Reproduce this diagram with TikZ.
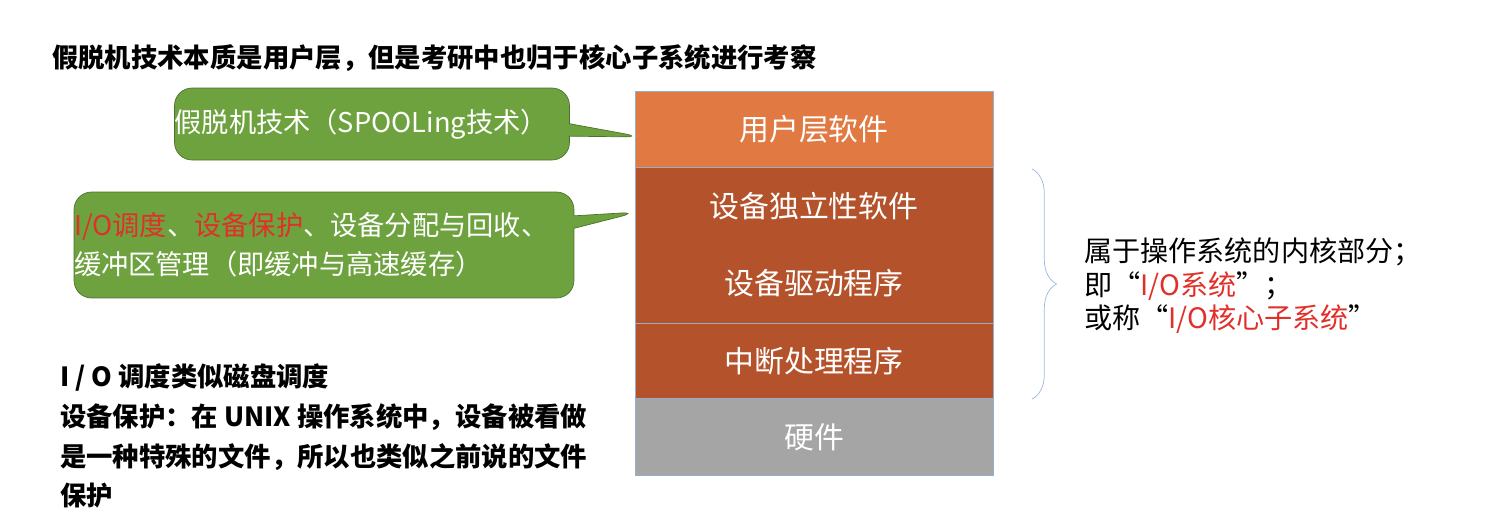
\documentclass[tikz,border=0pt]{standalone}
\usepackage{fontspec}
\setmainfont{Noto Sans CJK SC}
\usetikzlibrary{positioning,shapes.callouts,decorations.pathreplacing}
\definecolor{userc}{HTML}{E07A42}
\definecolor{kernc}{HTML}{B4532B}
\definecolor{hwc}{HTML}{A5A5A5}
\definecolor{greenc}{HTML}{6EA23F}
\definecolor{redc}{HTML}{E0302A}
\definecolor{bracec}{HTML}{9DB8DA}
\begin{document}
\begin{tikzpicture}[x=0.02cm,y=-0.02cm,
    layer/.style={draw=bracec!80!gray,text=white,minimum width=7.16cm,inner sep=0pt,font=\fontsize{17}{20}\selectfont},
    bubble/.style={rectangle callout,fill=greenc,draw=greenc!70!black,rounded corners=10pt,text=white,align=left,font=\fontsize{15.5}{22}\selectfont,inner sep=0pt,text width=#1},
    note/.style={anchor=west,font=\fontsize{15}{17}\selectfont\bfseries}]
  \useasboundingbox (0,0) rectangle (1497,525);
  % layers
  \node[layer,fill=userc,minimum height=1.52cm] (user) at (814,129) {用户层软件};
  \node[layer,fill=kernc,minimum height=3.12cm] (indep) at (814,245) {};
  \node[text=white,font=\fontsize{17}{20}\selectfont] (indept) at (814,206) {设备独立性软件};
  \node[text=white,font=\fontsize{17}{20}\selectfont] (drv) at (814,283) {设备驱动程序};
  \node[layer,fill=kernc,minimum height=1.52cm] (intr) at (814,361) {中断处理程序};
  \node[layer,fill=hwc,minimum height=1.54cm] (hw) at (814,437) {};
  \node[text=white,font=\fontsize{17}{20}\selectfont] (hwt) at (814,437) {硬件};
  % callouts
  \node[bubble=7.9cm,minimum height=1.44cm,callout absolute pointer={(642,137)}] (spool) at (372,124)
    {假脱机技术（SPOOLing技术）};
  \node[bubble=10cm,minimum height=2.12cm,callout absolute pointer={(638,212)}] (sched) at (324,245)
    {{\color{redc}I/O调度}、{\color{redc}设备保护}、设备分配与回收、\\缓冲区管理（即缓冲与高速缓存）};
  % brace
  \coordinate (bt) at (1032,169);
  \coordinate (bb) at (1032,399);
  \draw[bracec,decorate,decoration={brace,amplitude=14pt,mirror}] (bb) -- (bt);
  \node[anchor=north west,align=left,font=\fontsize{16}{19}\selectfont] (kern) at (1078,232)
    {属于操作系统的内核部分；\\即“{\color{redc}I/O系统}”；\\或称“{\color{redc}I/O核心子系统}”};
  % notes
  \node[note] (title) at (46,58) {假脱机技术本质是用户层，但是考研中也归于核心子系统进行考察};
  \node[note,anchor=north west,align=left,font=\fontsize{15}{22.5}\selectfont\bfseries] (io) at (54,358)
    {I / O 调度类似磁盘调度\\设备保护：在 UNIX 操作系统中，设备被看做\\是一种特殊的文件，所以也类似之前说的文件\\保护};
\end{tikzpicture}
\end{document}
